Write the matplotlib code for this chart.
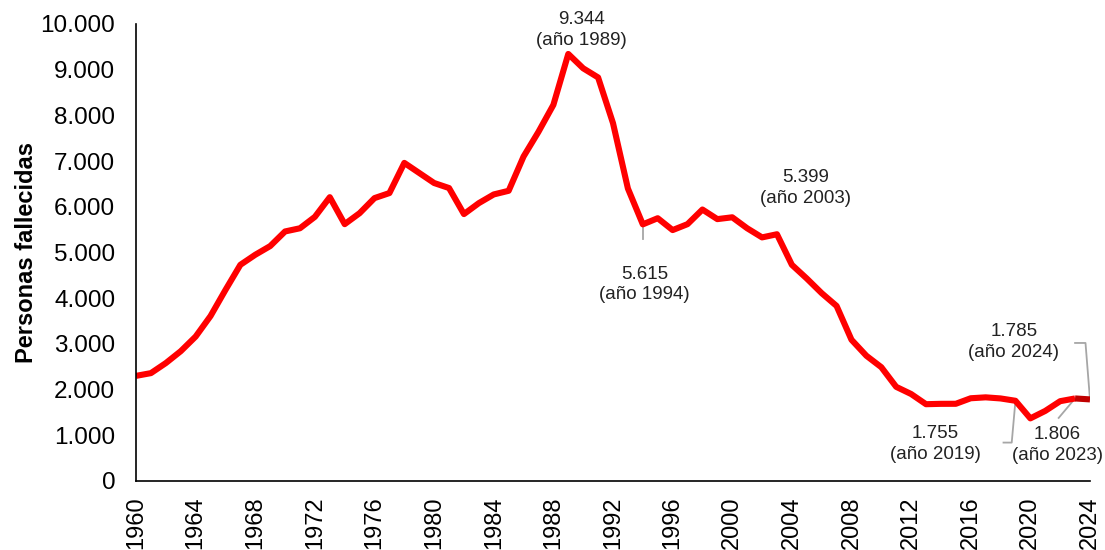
import matplotlib
matplotlib.use("Agg")
import matplotlib.pyplot as plt
from matplotlib.ticker import FuncFormatter, MultipleLocator

plt.rcParams["font.family"] = ["Liberation Sans", "DejaVu Sans"]

years = list(range(1960, 2025))
deaths = [
    2300, 2360, 2580, 2840, 3160, 3610, 4180, 4730, 4950, 5140,
    5460, 5530, 5780, 6210, 5620, 5860, 6190, 6300, 6960, 6740,
    6520, 6410, 5840, 6080, 6270, 6350, 7100, 7640, 8230, 9344,
    9030, 8830, 7830, 6400, 5615, 5750, 5490, 5620, 5940, 5730,
    5770, 5530, 5330, 5399, 4730, 4430, 4110, 3830, 3090, 2740,
    2490, 2060, 1903, 1680, 1688, 1689, 1810, 1830, 1806, 1755,
    1370, 1533, 1746, 1806, 1785,
]

# (year, text, label x, label y, leader line points in data coords)
labels = [
    (1989, "9.344\n(año 1989)", 1989.9, 9870, None),
    (1994, "5.615\n(año 1994)", 1994.1, 4300, [(1994, 5615), (1994, 5290)]),
    (2003, "5.399\n(año 2003)", 2004.9, 6420, None),
    (2019, "1.755\n(año 2019)", 2013.6, 800, [(2019, 1755), (2018.75, 840), (2018.2, 840)]),
    (2023, "1.806\n(año 2023)", 2021.8, 790, [(2023, 1806), (2021.9, 1380)]),
    (2024, "1.785\n(año 2024)", 2018.9, 3040, [(2024, 1785), (2023.7, 3020), (2023.0, 3020)]),
]


def thousands(value, _):
    return f"{value:,.0f}".replace(",", ".")


fig = plt.figure(figsize=(11.05, 5.5), dpi=100)
ax = fig.add_axes([0.1231, 0.1255, 0.8633, 0.8309])

ax.plot(years[:-1], deaths[:-1], color="#ff0000", linewidth=4.4, solid_capstyle="butt")
ax.plot(years[-2:], deaths[-2:], color="#c00000", linewidth=4.4, solid_capstyle="butt")

for year, text, lx, ly, leader in labels:
    if leader:
        xs = [p[0] for p in leader]
        ys = [p[1] for p in leader]
        ax.plot(xs, ys, color="#a6a6a6", linewidth=1.3, zorder=1)
    ax.text(lx, ly, text, ha="center", va="center", fontsize=13.5,
            color="#222222", linespacing=1.3)

ax.set_xlim(1960, 2024)
ax.set_ylim(0, 10000)
ax.xaxis.set_major_locator(MultipleLocator(4))
ax.yaxis.set_major_locator(MultipleLocator(1000))
ax.yaxis.set_major_formatter(FuncFormatter(thousands))

ax.tick_params(axis="y", length=0, pad=15, labelsize=17.5)
ax.tick_params(axis="x", length=0, pad=11, labelsize=17, labelrotation=90)

for side in ["top", "right"]:
    ax.spines[side].set_visible(False)
for side in ["left", "bottom"]:
    ax.spines[side].set_color("black")
    ax.spines[side].set_linewidth(1.2)

ax.set_ylabel("Personas fallecidas", fontsize=17, fontweight="bold", labelpad=2)

fig.savefig("out.png", dpi=100)
